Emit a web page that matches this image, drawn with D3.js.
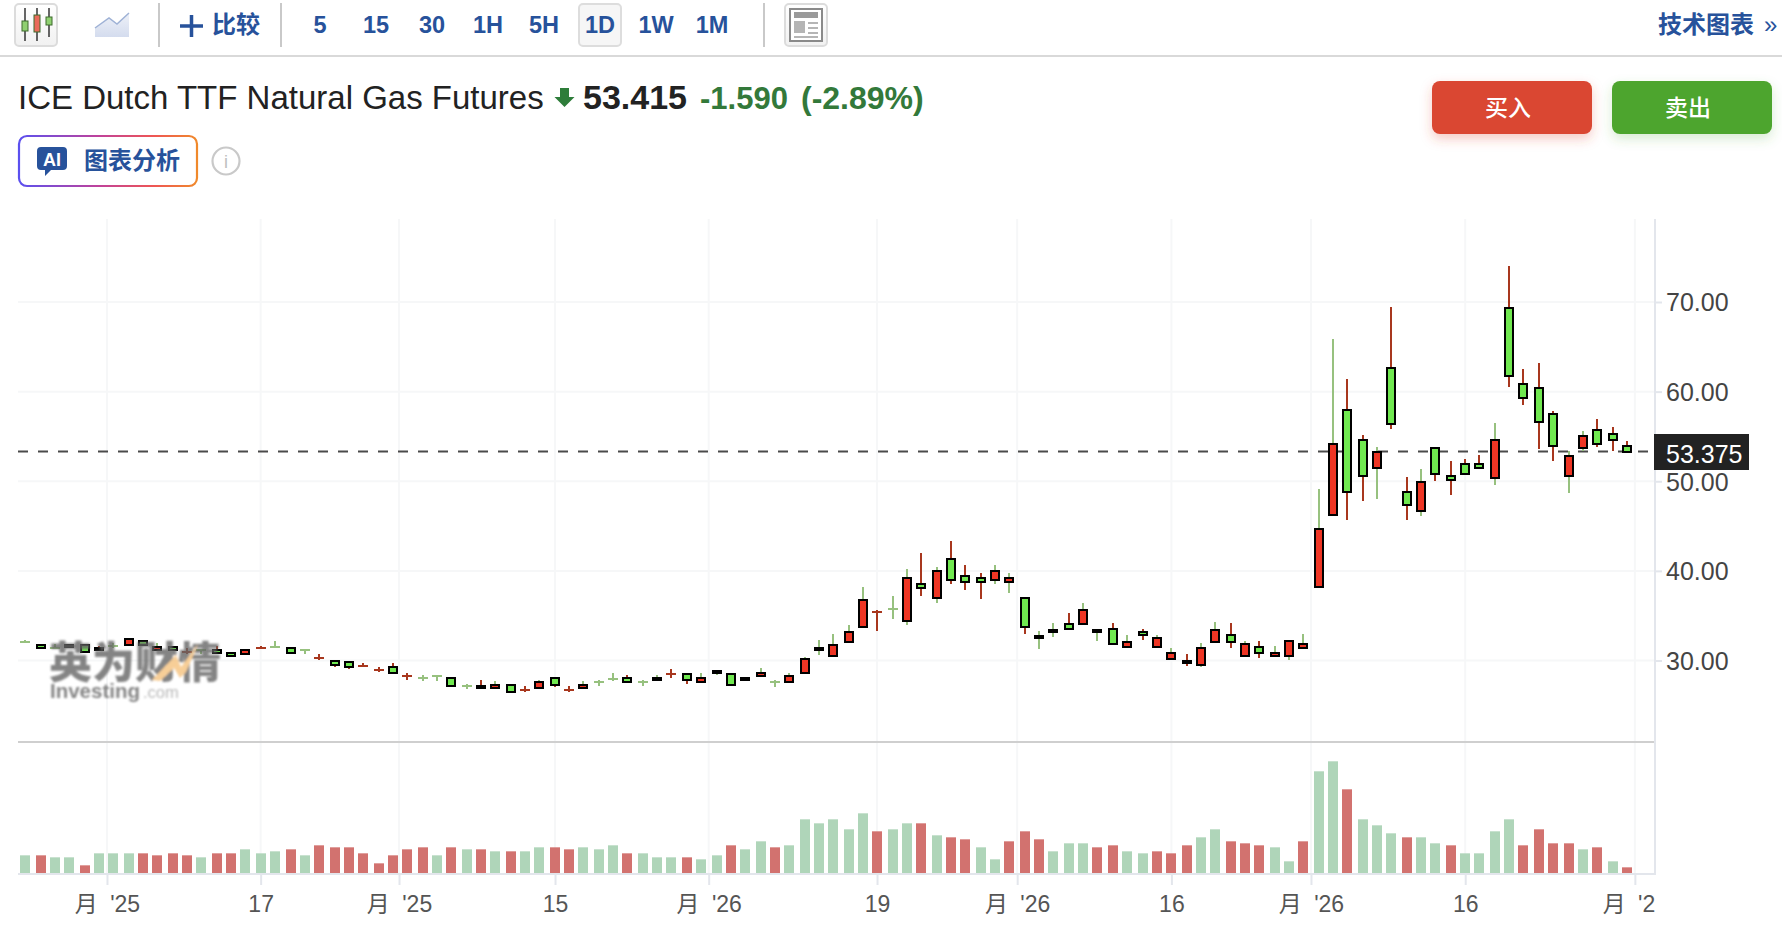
<!DOCTYPE html>
<html lang="zh">
<head>
<meta charset="utf-8">
<title>ICE Dutch TTF Natural Gas Futures</title>
<script src="https://cdn.jsdelivr.net/npm/d3@7/dist/d3.min.js"></script>
<style>
html,body{margin:0;padding:0;background:#fff;overflow:hidden}
svg{display:block}
text{font-family:"Liberation Sans","Noto Sans CJK SC",sans-serif}
</style>
</head>
<body>
<svg id="chart" width="1782" height="932" viewBox="0 0 1782 932"></svg>
<script>
const opens = [32.03,31.75,31.33,31.56,31.75,31.34,31.59,31.78,32.23,31.12,31.56,30.94,31.11,31.12,30.89,30.67,31.35,31.55,31.34,31.11,30.23,30.0,29.78,29.34,28.89,29.33,28.23,27.99,28.21,28.0,
27.09,27.1,26.88,27.32,26.66,26.88,28.0,26.66,26.88,27.54,27.98,28.0,27.54,27.77,28.45,28.44,27.55,28.66,28.44,28.0,28.22,27.54,27.55,28.66,31.12,30.45,32.01,33.79,35.4,35.79,
34.46,38.48,36.92,41.38,39.38,39.15,38.93,38.71,36.92,32.46,33.13,34.02,34.02,33.13,33.57,31.56,33.13,31.56,30.22,30.0,29.55,32.01,32.9,30.45,31.56,30.45,30.45,31.34,38.19,46.19,
57.96,54.63,51.52,62.63,48.85,46.63,53.74,50.63,51.96,51.96,50.41,69.3,60.85,60.41,57.52,50.63,53.74,55.74,55.3,53.96];
const closes = [32.04,31.38,31.34,31.78,30.93,31.12,31.6,32.45,31.78,31.56,31.12,30.93,31.12,30.89,30.45,31.12,31.34,31.56,30.89,31.12,30.22,29.55,29.33,29.33,28.88,28.66,28.22,28.0,28.22,27.1,
27.1,26.88,27.32,26.43,26.65,27.55,27.32,26.65,27.32,27.55,27.99,27.55,27.55,28.0,28.44,27.77,28.0,28.88,27.32,27.77,28.66,27.55,28.22,30.22,31.34,31.78,33.13,36.7,35.39,35.8,
39.15,38.04,40.04,38.93,38.71,38.71,40.04,39.15,33.79,32.68,33.35,33.57,35.58,33.35,31.79,32.01,32.9,32.46,30.89,29.78,31.34,33.35,32.01,31.79,30.89,30.89,32.23,31.79,44.63,54.19,
48.85,50.63,53.3,56.41,47.3,49.96,50.85,50.19,50.85,51.52,54.63,61.74,59.3,56.63,53.96,52.85,55.07,54.19,54.63,53.3];
const highs = [32.3,31.75,31.86,31.78,31.75,31.67,31.9,32.45,32.23,31.9,31.56,31.45,31.23,31.67,30.89,31.12,31.67,32.12,31.34,31.23,30.78,30.0,29.78,29.67,29.22,29.67,28.55,28.33,28.33,28.0,
27.43,27.88,27.66,27.32,27.21,27.88,28.0,27.21,27.66,27.88,28.55,28.33,27.88,28.33,29.0,28.44,28.55,28.88,28.44,28.0,29.2,27.88,28.55,30.44,32.34,33.0,33.91,38.15,35.69,37.25,
40.16,41.94,40.38,43.28,40.6,39.71,40.6,39.71,36.92,33.24,34.13,35.25,36.36,33.35,34.13,32.79,33.46,32.79,31.45,30.78,31.9,34.35,34.13,32.12,32.12,31.67,32.23,33.01,49.19,65.85,
61.4,55.19,53.85,69.41,50.52,51.41,53.74,52.3,52.52,52.96,56.52,74.07,62.52,63.19,57.85,53.41,55.63,56.96,56.07,54.52];
const lows = [31.93,31.38,31.23,31.56,30.93,31.12,31.45,31.78,31.78,31.12,31.12,30.78,30.78,30.89,30.45,30.67,31.23,31.45,30.89,30.78,30.11,29.33,29.0,29.22,28.77,28.66,27.88,27.66,27.66,27.1,
26.77,26.88,26.88,26.43,26.54,26.88,26.99,26.54,26.88,27.21,27.66,27.55,27.21,27.77,28.1,27.43,27.55,28.33,27.32,27.77,28.22,26.99,27.55,28.66,30.56,30.45,32.01,33.79,33.24,34.58,
33.91,37.25,36.36,38.59,37.92,36.81,38.59,37.48,33.01,31.23,32.57,33.57,34.02,32.12,31.79,31.56,32.34,31.56,30.22,29.44,29.22,32.01,31.45,30.45,30.33,30.45,30.11,31.34,38.19,46.19,
45.63,47.85,48.07,55.85,45.63,46.07,50.07,48.52,50.85,51.52,49.63,60.52,58.52,53.63,52.3,48.74,53.41,53.85,53.41,53.3];
const volumes = [53,53,47,47,23,59,59,59,59,53,59,53,47,59,59,71,59,65,71,53,83,77,77,59,29,53,71,77,53,77,
71,71,65,65,65,77,77,71,77,71,83,59,59,47,47,47,41,53,83,71,95,77,83,161,149,161,131,179,125,131,
149,149,113,107,101,77,41,95,125,101,65,89,89,77,83,65,59,65,59,83,107,131,95,89,83,77,35,95,305,335,
251,161,143,119,107,107,89,83,59,59,125,161,83,131,89,89,71,77,35,17];
const volumeDirs = ["u","d","u","u","d","u","u","u","d","d","d","d","u","d","d","u","u","u","d","u","d","d","d","d","d","d","d","d","u","d",
"u","d","u","d","u","u","d","d","u","u","u","d","u","u","u","d","u","u","d","u","u","d","u","u","u","u","u","u","d","u",
"u","d","u","d","d","u","u","d","d","d","u","u","u","d","d","u","u","d","d","d","u","u","d","d","d","u","u","d","u","u",
"d","u","u","u","d","u","u","d","u","u","u","u","d","d","d","d","u","d","u","d"];
const priceTicks = [30,40,50,60,70];
const timeTickPositions = [5.54,16,25.42,36.04,46.5,57.96,67.5,78,87.5,98,109.55];
const timeTickLabels = ["月 '25","17","月 '25","15","月 '26","19","月 '26","16","月 '26","16","月 '26"];
const lastPrice = 53.375;
const timeframes = ["5","15","30","1H","5H","1D","1W","1M"];
const timeframeCenters = [320,376,432,488,544,600,656,712];

const svg = d3.select("#chart");
const BLUE = "#27529b", GRID = "#f6f7f8", AXIS = "#e3e6ec";
const defs = svg.append("defs");

const grad = defs.append("linearGradient").attr("id","aiGrad").attr("gradientUnits","userSpaceOnUse")
  .attr("x1",18).attr("x2",198).attr("y1",0).attr("y2",0);
[["0%","#5a50f0"],["45%","#c0429a"],["75%","#ee5555"],["100%","#f08a2a"]]
  .forEach(s=>grad.append("stop").attr("offset",s[0]).attr("stop-color",s[1]));
const areaGrad = defs.append("linearGradient").attr("id","areaGrad").attr("x1",0).attr("x2",0).attr("y1",0).attr("y2",1);
areaGrad.append("stop").attr("offset","0%").attr("stop-color","#eef1f8");
areaGrad.append("stop").attr("offset","100%").attr("stop-color","#d4dcee");
const btnGrad = defs.append("linearGradient").attr("id","btnGrad").attr("x1",0).attr("x2",0).attr("y1",0).attr("y2",1);
btnGrad.append("stop").attr("offset","0%").attr("stop-color","#ffffff");
btnGrad.append("stop").attr("offset","100%").attr("stop-color","#f1f1f1");
const blur = defs.append("filter").attr("id","wmBlur"); blur.append("feGaussianBlur").attr("stdDeviation",0.8);
const sRed = defs.append("filter").attr("id","shRed").attr("x","-20%").attr("y","-30%").attr("width","140%").attr("height","170%");
sRed.append("feDropShadow").attr("dx",0).attr("dy",5).attr("stdDeviation",6).attr("flood-color","#da4633").attr("flood-opacity",0.28);
const sGreen = defs.append("filter").attr("id","shGreen").attr("x","-20%").attr("y","-30%").attr("width","140%").attr("height","170%");
sGreen.append("feDropShadow").attr("dx",0).attr("dy",5).attr("stdDeviation",6).attr("flood-color","#4ea52e").attr("flood-opacity",0.22);
defs.append("clipPath").attr("id","plotClip").append("rect").attr("x",0).attr("y",0).attr("width",1655).attr("height",932);

/* ---------- toolbar ---------- */
const bar = svg.append("g");
function iconButton(x,w){
  bar.append("rect").attr("x",x).attr("y",4).attr("width",w).attr("height",42).attr("rx",4)
    .attr("fill","url(#btnGrad)").attr("stroke","#dcdcdc").attr("stroke-width",2);
}
iconButton(15,42);
[[25,8,41,21,31,"#8fd070"],[37,8,41,15,32,"#ea6a5a"],[49,8,37,17,25,"#8fd070"]].forEach(c=>{
  bar.append("line").attr("x1",c[0]).attr("x2",c[0]).attr("y1",c[1]).attr("y2",c[2]).attr("stroke","#333").attr("stroke-width",1.5);
  bar.append("rect").attr("x",c[0]-3).attr("y",c[3]).attr("width",6).attr("height",c[4]-c[3]).attr("fill",c[5]).attr("stroke","#3c6a2c").attr("stroke-width",1);
});
bar.append("path").attr("d","M95,28L109,18L117,24L129,13V37H95Z").attr("fill","url(#areaGrad)");
bar.append("path").attr("d","M95,28L109,18L117,24L129,13").attr("fill","none").attr("stroke","#9fb2d6").attr("stroke-width",1.5);
[159,281,764].forEach(x=>bar.append("line").attr("x1",x).attr("x2",x).attr("y1",3).attr("y2",47).attr("stroke","#c9c9c9").attr("stroke-width",2));
bar.append("path").attr("d","M180,26H203M191.5,15V37").attr("stroke",BLUE).attr("stroke-width",3.5).attr("fill","none");
bar.append("text").attr("x",212).attr("y",33).attr("font-size",24).attr("font-weight",700).attr("fill",BLUE).text("比较");
bar.append("rect").attr("x",579).attr("y",4).attr("width",42).attr("height",42).attr("rx",4).attr("fill","#f6f6f6").attr("stroke","#dddddd").attr("stroke-width",2);
timeframes.forEach((t,i)=>bar.append("text").attr("x",timeframeCenters[i]).attr("y",33).attr("text-anchor","middle")
  .attr("font-size",23.5).attr("font-weight",700).attr("fill",BLUE).text(t));
iconButton(785,42);
bar.append("rect").attr("x",790).attr("y",9).attr("width",32).attr("height",32).attr("fill","#fff").attr("stroke","#8a8a8a").attr("stroke-width",2);
bar.append("rect").attr("x",794).attr("y",12).attr("width",24).attr("height",6).attr("fill","#9a9a9a");
bar.append("rect").attr("x",794).attr("y",21).attr("width",11).attr("height",12).attr("fill","#b5b5b5");
[22,27,32].forEach(y=>bar.append("rect").attr("x",808).attr("y",y).attr("width",10).attr("height",2).attr("fill","#b5b5b5"));
bar.append("rect").attr("x",794).attr("y",36).attr("width",24).attr("height",2).attr("fill","#b5b5b5");
bar.append("text").attr("x",1658).attr("y",33).attr("font-size",24).attr("font-weight",700).attr("fill",BLUE).text("技术图表");
bar.append("text").attr("x",1764).attr("y",33).attr("font-size",24).attr("fill",BLUE).text("»");
bar.append("line").attr("x1",0).attr("x2",1782).attr("y1",56).attr("y2",56).attr("stroke","#d9d9d9").attr("stroke-width",2);

/* ---------- headline ---------- */
const head = svg.append("g");
head.append("text").attr("x",18).attr("y",109).attr("font-size",33).attr("fill","#222").text("ICE Dutch TTF Natural Gas Futures");
head.append("path").attr("d","M560,88H569V97H574.5L564.5,107L554.5,97H560Z").attr("fill","#2e7d3a");
head.append("text").attr("x",583).attr("y",109).attr("font-size",34).attr("font-weight",700).attr("fill","#222").text("53.415");
head.append("text").attr("x",700).attr("y",109).attr("font-size",31).attr("font-weight",700).attr("fill","#33793a").text("-1.590");
head.append("text").attr("x",801).attr("y",109).attr("font-size",32).attr("font-weight",700).attr("fill","#33793a").text("(-2.89%)");

head.append("rect").attr("x",19).attr("y",136).attr("width",178).attr("height",50).attr("rx",8).attr("fill","#fff").attr("stroke","url(#aiGrad)").attr("stroke-width",2.2);
head.append("path").attr("d","M41,147H63Q67,147 67,151V166Q67,170 63,170H51L45,176V170H41Q37,170 37,166V151Q37,147 41,147Z").attr("fill",BLUE);
head.append("text").attr("x",52).attr("y",166).attr("text-anchor","middle").attr("font-size",18).attr("font-weight",700).attr("fill","#fff").text("AI");
head.append("text").attr("x",84).attr("y",169).attr("font-size",24).attr("font-weight",700).attr("fill",BLUE).text("图表分析");
head.append("circle").attr("cx",226).attr("cy",161).attr("r",13.5).attr("fill","#fff").attr("stroke","#c9c9c9").attr("stroke-width",2.2);
head.append("text").attr("x",226).attr("y",168).attr("text-anchor","middle").attr("font-size",18).attr("fill","#c0c0c0").text("i");

[[1432,"#da4633","url(#shRed)","买入"],[1612,"#4ea52e","url(#shGreen)","卖出"]].forEach(b=>{
  head.append("rect").attr("x",b[0]).attr("y",81).attr("width",160).attr("height",53).attr("rx",8).attr("fill",b[1]).attr("filter",b[2]);
  head.append("text").attr("x",b[0]+76).attr("y",116).attr("text-anchor","middle").attr("font-size",23).attr("font-weight",500).attr("fill","#fff").text(b[3]);
});

/* ---------- scales ---------- */
const x = d3.scaleLinear().domain([0,109]).range([25.6,1626.8]);
const y = d3.scaleLinear().domain([30,70]).range([660.5,302]);
const v = d3.scaleLinear().domain([0,335]).range([873,761.3]);
const snap = i => 2*Math.round((x(i)-1)/2)+1;

/* ---------- grid ---------- */
const grid = svg.append("g");
timeTickPositions.forEach(p=>grid.append("line").attr("x1",x(p)).attr("x2",x(p)).attr("y1",219).attr("y2",874).attr("stroke",GRID).attr("stroke-width",2));
priceTicks.forEach(p=>grid.append("line").attr("x1",18).attr("x2",1655).attr("y1",y(p)).attr("y2",y(p)).attr("stroke",GRID).attr("stroke-width",2));

/* ---------- volume ---------- */
svg.append("g").selectAll("rect").data(volumes).join("rect")
  .attr("x",(d,i)=>snap(i)-5).attr("width",10)
  .attr("y",d=>v(d)).attr("height",d=>v(0)-v(d))
  .attr("fill",(d,i)=>volumeDirs[i]==="u"?"#afd5b9":"#d2726f");

/* ---------- separators and axes ---------- */
svg.append("line").attr("x1",18).attr("x2",1655).attr("y1",742).attr("y2",742).attr("stroke","#cfcfcf").attr("stroke-width",2);
svg.append("line").attr("x1",18).attr("x2",1655).attr("y1",874).attr("y2",874).attr("stroke",AXIS).attr("stroke-width",2);
svg.append("line").attr("x1",1655).attr("x2",1655).attr("y1",219).attr("y2",875).attr("stroke",AXIS).attr("stroke-width",2);

const yAxis = svg.append("g").attr("transform","translate(1655,0)")
  .call(d3.axisRight(y).tickValues(priceTicks).tickFormat(d3.format(".2f")).tickSize(7).tickPadding(4));
yAxis.select(".domain").remove();
yAxis.selectAll("line").attr("stroke",AXIS).attr("stroke-width",2);
yAxis.selectAll("text").attr("font-size",25).attr("fill","#444").attr("dy","0.35em");

const xAxis = svg.append("g").attr("transform","translate(0,874)").attr("clip-path","url(#plotClip)")
  .call(d3.axisBottom(x).tickValues(timeTickPositions).tickFormat(d=>timeTickLabels[timeTickPositions.indexOf(d)]).tickSize(11).tickPadding(11));
xAxis.select(".domain").remove();
xAxis.selectAll("line").attr("stroke",AXIS).attr("stroke-width",2);
xAxis.selectAll("text").attr("font-size",23).attr("fill","#555").style("word-spacing","6px");

/* ---------- last price line ---------- */
svg.append("line").attr("x1",18).attr("x2",1652).attr("y1",y(lastPrice)+0.5).attr("y2",y(lastPrice)+0.5)
  .attr("stroke","#4a4a4a").attr("stroke-width",2).attr("stroke-dasharray","10,10");

/* ---------- candles ---------- */
const candle = svg.append("g").selectAll("g").data(d3.range(opens.length)).join("g");
const isUp = i => closes[i] >= opens[i];
const wickColor = i => isUp(i) ? "#97c17f" : "#a8371e";
candle.append("line")
  .attr("x1",i=>snap(i)).attr("x2",i=>snap(i))
  .attr("y1",i=>Math.round(y(highs[i]))).attr("y2",i=>Math.round(y(lows[i])))
  .attr("stroke",wickColor).attr("stroke-width",2);
candle.each(function(i){
  const g = d3.select(this);
  const top = Math.round(y(Math.max(opens[i],closes[i])));
  const bot = Math.round(y(Math.min(opens[i],closes[i])));
  if (Math.abs(opens[i]-closes[i]) < 0.05) {
    g.append("line").attr("x1",snap(i)-5).attr("x2",snap(i)+5).attr("y1",top).attr("y2",top)
      .attr("stroke",wickColor(i)).attr("stroke-width",2);
  } else {
    g.append("rect").attr("x",snap(i)-4).attr("width",8).attr("y",top).attr("height",Math.max(bot-top,2))
      .attr("fill",isUp(i)?"#ee3524":"#70e850").attr("stroke","#000").attr("stroke-width",2);
  }
});

/* ---------- last price label ---------- */
svg.append("rect").attr("x",1654).attr("y",434).attr("width",95).attr("height",36).attr("fill","#222");
svg.append("text").attr("x",1666).attr("y",463).attr("font-size",25).attr("fill","#fff").text(d3.format(".3f")(lastPrice));

/* ---------- watermark ---------- */
const wm = svg.append("g").attr("filter","url(#wmBlur)").attr("opacity",0.8);
wm.append("text").attr("x",49).attr("y",678).attr("font-size",43).attr("font-weight",900).attr("fill","#666")
  .style("font-family","'Noto Sans CJK SC'").text("英为财情");
wm.append("path").attr("d","M152,680L176,655L181,667L198,644L186,672L180,678L174,668L160,681Z").attr("fill","#f6c27e");
wm.append("text").attr("x",50).attr("y",698).attr("font-size",20.5).attr("font-weight",700).attr("fill","#666").text("Investing");
wm.append("text").attr("x",143).attr("y",698).attr("font-size",16.5).attr("fill","#a8a8a8").text(".com");
</script>
</body>
</html>
